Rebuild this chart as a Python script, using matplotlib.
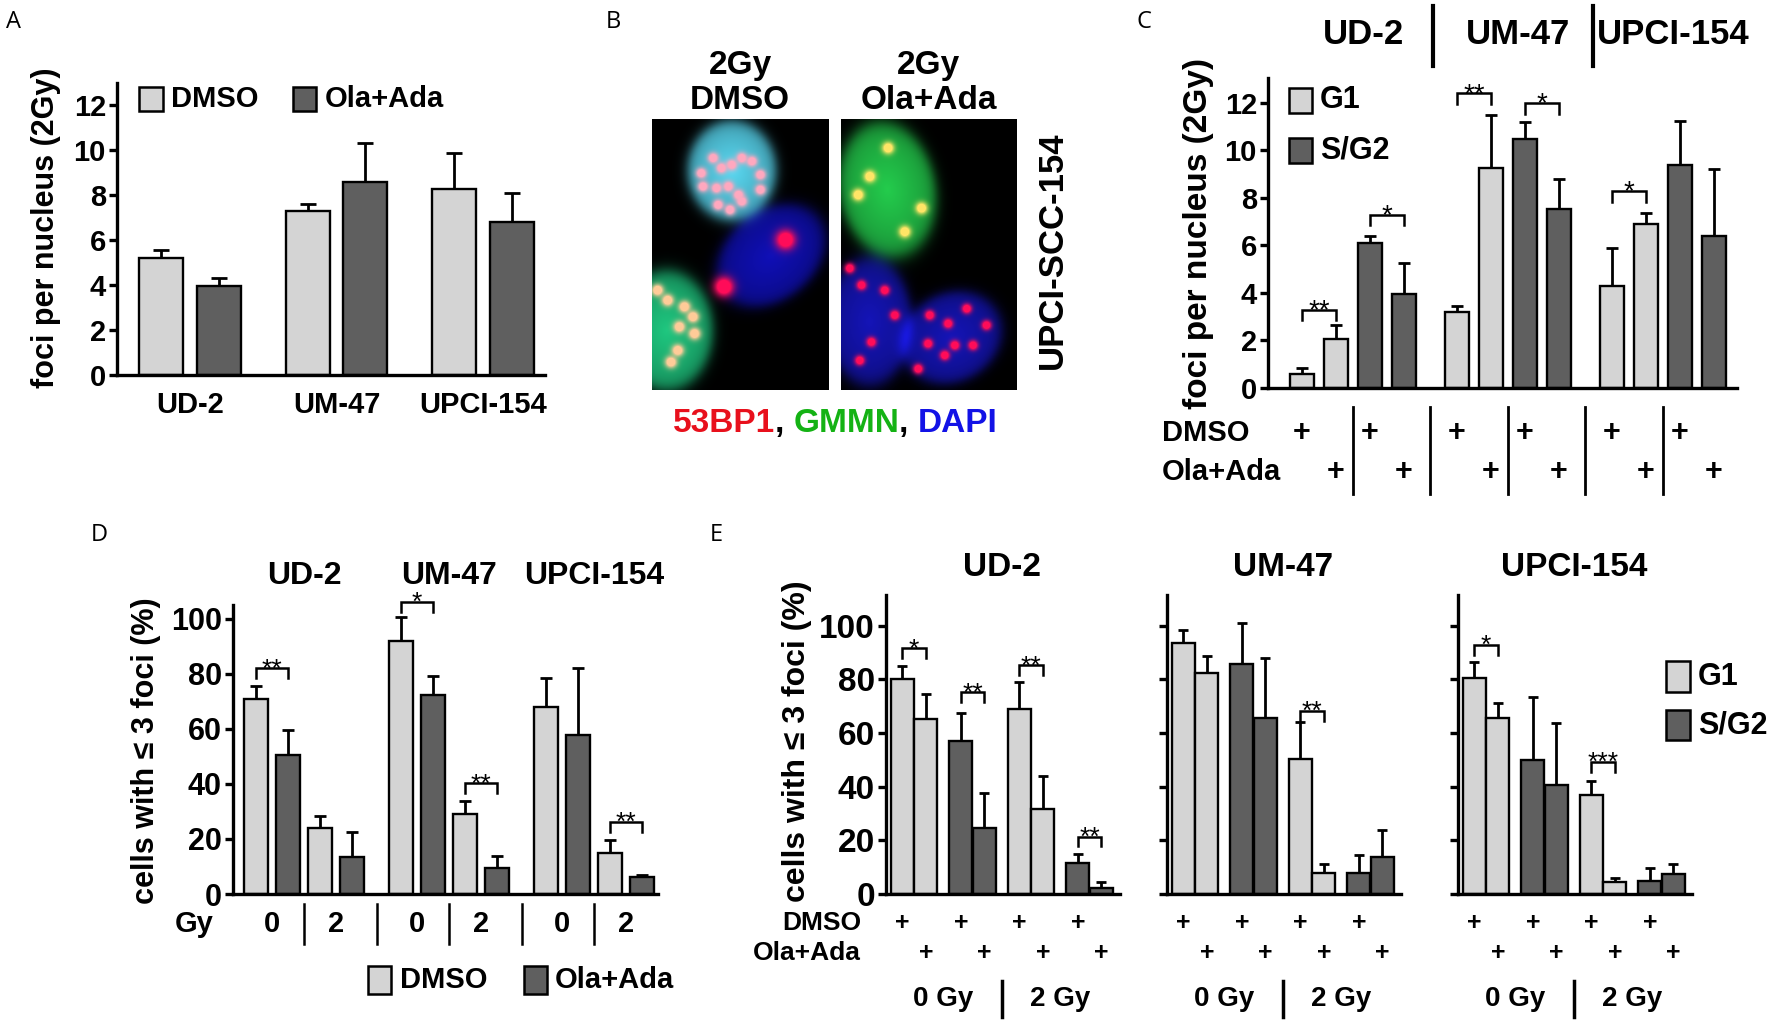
import numpy as np
import matplotlib
matplotlib.use("Agg")
import matplotlib.pyplot as plt
import matplotlib.transforms as mtransforms
from matplotlib.patches import Rectangle

W, H = 1772, 1021
LIGHT = '#d4d4d4'
DARK = '#5f5f5f'

plt.rcParams['font.family'] = ['Liberation Sans', 'DejaVu Sans']
plt.rcParams['font.weight'] = 'bold'

# ---------------- data ----------------
# A: foci per nucleus, 2Gy
a_groups = ['UD-2', 'UM-47', 'UPCI-154']
a_dmso = [5.2, 7.3, 8.3]
a_dmso_err = [0.35, 0.3, 1.6]
a_ola = [3.95, 8.6, 6.8]
a_ola_err = [0.35, 1.75, 1.3]

# C: per group G1 DMSO, G1 Ola+Ada, S/G2 DMSO, S/G2 Ola+Ada
c_groups = ['UD-2', 'UM-47', 'UPCI-154']
c_vals = [[0.6, 2.05, 6.1, 3.95], [3.2, 9.25, 10.5, 7.55], [4.3, 6.9, 9.4, 6.4]]
c_err = [[0.25, 0.6, 0.3, 1.3], [0.25, 2.25, 0.7, 1.25], [1.6, 0.45, 1.85, 2.8]]
c_sig = [(0, 0, 1, 3.3, '**'), (0, 2, 3, 7.3, '*'), (1, 0, 1, 12.4, '**'),
         (1, 2, 3, 12.0, '*'), (2, 0, 1, 8.3, '*')]

# D: per group DMSO 0Gy, Ola+Ada 0Gy, DMSO 2Gy, Ola+Ada 2Gy
d_groups = ['UD-2', 'UM-47', 'UPCI-154']
d_vals = [[70.7, 50.5, 24.1, 13.5], [92.1, 72.3, 29.2, 9.3], [68.0, 57.8, 14.8, 6.1]]
d_err = [[4.9, 9.0, 4.4, 8.9], [8.6, 6.9, 4.6, 4.5], [10.4, 24.2, 4.8, 0.8]]
d_sig = [(0, 0, 1, 82.0, '**'), (1, 0, 1, 106.2, '*'), (1, 2, 3, 40.2, '**'),
         (2, 2, 3, 26.3, '**')]
d_dose = ['0', '2']

# E: G1/S2G2 x DMSO/Ola+Ada x 0Gy/2Gy
e_groups = ['UD-2', 'UM-47', 'UPCI-154']
e_phase = ['G1', 'G1', 'S/G2', 'S/G2', 'G1', 'G1', 'S/G2', 'S/G2']
e_vals = [[80.1, 65.2, 57.0, 24.7, 68.8, 31.7, 11.4, 2.4],
          [93.4, 82.5, 85.6, 65.7, 50.2, 7.7, 7.7, 13.9],
          [80.4, 65.5, 49.9, 40.6, 36.9, 4.6, 5.0, 7.5]]
e_err = [[5.0, 9.2, 10.3, 13.1, 10.0, 12.4, 3.4, 1.9],
         [5.0, 6.2, 15.5, 22.4, 14.0, 3.4, 6.8, 10.0],
         [6.2, 5.8, 23.6, 23.0, 5.3, 1.2, 4.6, 3.6]]
e_sig = [[(0, 1, 91.6, '*'), (2, 3, 75.2, '**'), (4, 5, 85.3, '**'), (6, 7, 21.4, '**')],
         [(4, 5, 68.3, '**')],
         [(0, 1, 92.8, '*'), (4, 5, 49.3, '***')]]
e_doses = ['0 Gy', '2 Gy']

fig = plt.figure(figsize=(W / 100, H / 100), dpi=100)
fig.patch.set_facecolor('white')


def px_axes(x0, y0, x1, y1):
    return fig.add_axes([x0 / W, 1 - y1 / H, (x1 - x0) / W, (y1 - y0) / H])


def ftext(x, y, s, size, ha='left', va='center', **kw):
    return fig.text(x / W, 1 - y / H, s, fontsize=size, ha=ha, va=va, **kw)


def fig_box(x0, y0, x1, y1, color):
    fig.add_artist(Rectangle((x0 / W, 1 - y1 / H), (x1 - x0) / W, (y1 - y0) / H,
                             transform=fig.transFigure, facecolor=color,
                             edgecolor='black', linewidth=1.8))


def style(ax, ylim, yticks, tsize, labels=True):
    ax.set_ylim(*ylim)
    ax.set_yticks(yticks)
    if not labels:
        ax.set_yticklabels([])
    ax.set_xticks([])
    for s in ['top', 'right']:
        ax.spines[s].set_visible(False)
    for s in ['left', 'bottom']:
        ax.spines[s].set_linewidth(2.4)
    ax.tick_params(axis='y', length=6, width=2.4, labelsize=tsize, pad=2)
    ax.patch.set_visible(False)


def draw_bars(ax, x, vals, errs, colors, width, capsize):
    ax.errorbar(x, vals, yerr=[np.zeros(len(vals)), errs], fmt='none', ecolor='black',
                elinewidth=2.0, capsize=capsize, capthick=2.0, zorder=1, clip_on=False)
    ax.bar(x, vals, width, color=colors, edgecolor='black', linewidth=1.7, zorder=2)


def bracket(ax, x1, x2, y, leg, label, size=20):
    ax.plot([x1, x1, x2, x2], [y - leg, y, y, y - leg], color='black', lw=1.8,
            clip_on=False, solid_joinstyle='miter')
    ax.annotate(label, ((x1 + x2) / 2, y), xytext=(0, -6), textcoords='offset points',
                ha='center', va='baseline', fontsize=size, fontweight='normal',
                annotation_clip=False)


def xrow(ax, x, y, s, size, **kw):
    tr = mtransforms.blended_transform_factory(ax.transData, fig.transFigure)
    ax.text(x, 1 - y / H, s, transform=tr, fontsize=size, ha=kw.pop('ha', 'center'),
            va='center', clip_on=False, **kw)


def xline(ax, x, y0, y1, lw=1.8):
    tr = mtransforms.blended_transform_factory(ax.transData, fig.transFigure)
    ax.plot([x, x], [1 - y0 / H, 1 - y1 / H], transform=tr, color='black', lw=lw,
            clip_on=False)


# panel letters
for let, (lx, ly) in zip('ABCDE', [(6, 22), (606, 22), (1136, 22), (91, 535), (710, 535)]):
    ftext(lx, ly, let, 17, fontweight='normal', family=['Open Sans', 'DejaVu Sans'])

# ---------------- A ----------------
axA = px_axes(117, 83, 545, 375)
gp = 2.53
xa = np.arange(3) * gp
draw_bars(axA, xa, a_dmso, a_dmso_err, LIGHT, 0.76, 5.5)
draw_bars(axA, xa + 1, a_ola, a_ola_err, DARK, 0.76, 5.5)
axA.set_xlim(-0.76, 6.63)
style(axA, (0, 13), np.arange(0, 13, 2), 21)
for g, name in enumerate(a_groups):
    xrow(axA, xa[g] + 0.5, 405, name, 21)
ftext(46, 228, 'foci per nucleus (2Gy)', 22, ha='center', rotation=90)
fig_box(139, 87, 163, 111, LIGHT)
ftext(171, 99, 'DMSO', 21)
fig_box(293, 87, 316, 111, DARK)
ftext(325, 99, 'Ola+Ada', 21)


# ---------------- B ----------------
def nucleus_img(cells, foci, w=176, h=271):
    yy, xx = np.mgrid[0:h, 0:w].astype(float)
    img = np.zeros((h, w, 3))
    for cx, cy, rx, ry, ang, col in cells:
        a = np.deg2rad(ang)
        u = ((xx - cx) * np.cos(a) + (yy - cy) * np.sin(a)) / rx
        v = (-(xx - cx) * np.sin(a) + (yy - cy) * np.cos(a)) / ry
        r = np.sqrt(u ** 2 + v ** 2)
        m = 1 / (1 + np.exp((r - 1) / 0.07))
        shade = 0.75 + 0.25 * np.clip(1 - r, 0, 1)
        img += (m * shade)[..., None] * np.array(col)
    for fx, fy, s, col in foci:
        gss = np.exp(-((xx - fx * w) ** 2 + (yy - fy * h) ** 2) / (2 * s ** 2))
        gss = np.clip(1.6 * gss, 0, 1)
        img = img * (1 - gss[..., None]) + gss[..., None] * np.array(col)
    return np.clip(img, 0, 1)


pink = (1.0, 0.66, 0.75)
orange = (1.0, 0.8, 0.6)
red = (1.0, 0.05, 0.35)
yellow = (1.0, 0.9, 0.4)
cells1 = [(79, 51, 44, 50, 0, (0.35, 0.85, 0.95)),
          (118, 136, 60, 44, -40, (0.06, 0.06, 0.72)),
          (14, 211, 46, 60, 0, (0.12, 0.78, 0.5))]
foci1 = [(x, y, 3.6, pink) for x, y in
         [(0.276, 0.198), (0.343, 0.142), (0.39, 0.179), (0.448, 0.167), (0.505, 0.142),
          (0.562, 0.154), (0.286, 0.247), (0.362, 0.253), (0.429, 0.247), (0.486, 0.278),
          (0.371, 0.315), (0.438, 0.333), (0.505, 0.302), (0.61, 0.259), (0.61, 0.204)]]
foci1 += [(x, y, 4.0, orange) for x, y in
          [(0.029, 0.63), (0.086, 0.667), (0.181, 0.691), (0.229, 0.728), (0.152, 0.765),
           (0.238, 0.79), (0.143, 0.852), (0.105, 0.895)]]
foci1 += [(0.752, 0.444, 6.5, red), (0.404, 0.617, 6.5, red)]
cells2 = [(46, 70, 48, 68, -10, (0.14, 0.8, 0.3)),
          (28, 202, 42, 64, 0, (0.08, 0.08, 0.72)),
          (110, 218, 52, 44, -30, (0.08, 0.08, 0.72))]
foci2 = [(x, y, 4.0, yellow) for x, y in
         [(0.161, 0.21), (0.36, 0.414), (0.265, 0.105), (0.095, 0.278), (0.455, 0.327)]]
foci2 += [(x, y, 3.3, red) for x, y in
          [(0.047, 0.549), (0.114, 0.611), (0.246, 0.63), (0.303, 0.722), (0.17, 0.821),
           (0.104, 0.889), (0.502, 0.722), (0.606, 0.753), (0.644, 0.833), (0.748, 0.833),
           (0.492, 0.827), (0.436, 0.92), (0.712, 0.698), (0.824, 0.759), (0.587, 0.87)]]

for (x0, x1), cells, foci in [((652, 828), cells1, foci1), ((841, 1017), cells2, foci2)]:
    axi = px_axes(x0, 119, x1, 390)
    axi.imshow(nucleus_img(cells, foci), aspect='auto', interpolation='bilinear')
    axi.set_axis_off()
ftext(740, 74, '2Gy', 24, ha='center', va='baseline')
ftext(740, 109, 'DMSO', 24, ha='center', va='baseline')
ftext(929, 74, '2Gy', 24, ha='center', va='baseline')
ftext(929, 109, 'Ola+Ada', 24, ha='center', va='baseline')
ftext(1052, 250, 'UPCI-SCC-154', 25, ha='center', rotation=90)

renderer = fig.canvas.get_renderer()
pieces = [('53BP1', '#e8101c'), (', ', 'black'), ('GMMN', '#14b214'), (', ', 'black'),
          ('DAPI', '#1212e6')]
cx = 0.0
made = []
for s, col in pieces:
    t = fig.text(cx, 1 - 432 / H, s, fontsize=24, color=col, ha='left', va='baseline')
    made.append(t)
    cx += t.get_window_extent(renderer).width / W
shift = 835 / W - cx / 2
for t in made:
    t.set_x(t.get_position()[0] + shift)

# ---------------- C ----------------
axC = px_axes(1268, 78, 1737, 388)
gc = 4.56
c_colors = [LIGHT, LIGHT, DARK, DARK]
for g in range(3):
    xs = g * gc + np.arange(4)
    draw_bars(axC, xs, c_vals[g], c_err[g], c_colors, 0.72, 4.5)
axC.set_xlim(-1.0, 12.8)
style(axC, (0, 13.05), np.arange(0, 13, 2), 21)
for g, i1, i2, y, lab in c_sig:
    bracket(axC, g * gc + i1, g * gc + i2, y, 0.45, lab, 20)
ftext(1199, 233, 'foci per nucleus (2Gy)', 24, ha='center', rotation=90)
fig_box(1289, 88, 1312, 113, LIGHT)
ftext(1320, 100, 'G1', 22)
fig_box(1289, 138, 1312, 163, DARK)
ftext(1320, 150, 'S/G2', 22)
for g, name in enumerate(c_groups):
    xrow(axC, g * gc + 1.8, 35, name, 25)
xline(axC, 3.85, 6, 66, lw=3)
xline(axC, gc + 4.0, 6, 66, lw=3)
ftext(1162, 433, 'DMSO', 21)
ftext(1162, 472, 'Ola+Ada', 21)
for g in range(3):
    for i in range(4):
        xrow(axC, g * gc + i, 433 if i % 2 == 0 else 472, '+', 22)
    xline(axC, g * gc + 1.5, 407, 494, lw=2)
    if g < 2:
        xline(axC, g * gc + 3.78, 407, 494, lw=2)

# ---------------- D ----------------
axD = px_axes(233, 605, 658, 894)
gd = 4.53
d_colors = [LIGHT, DARK, LIGHT, DARK]
for g in range(3):
    xs = g * gd + np.arange(4)
    draw_bars(axD, xs, d_vals[g], d_err[g], d_colors, 0.74, 4.5)
axD.set_xlim(-0.72, 12.56)
style(axD, (0, 105), np.arange(0, 101, 20), 22)
for g, i1, i2, y, lab in d_sig:
    bracket(axD, g * gd + i1, g * gd + i2, y, 3.6, lab, 19)
for g, name in enumerate(d_groups):
    xrow(axD, g * gd + 1.5, 576, name, 23)
ftext(146, 751, 'cells with \u2264 3 foci (%)', 22, ha='center', rotation=90)
ftext(175, 924, 'Gy', 21)
for g in range(3):
    xrow(axD, g * gd + 0.5, 924, d_dose[0], 21)
    xrow(axD, g * gd + 2.5, 924, d_dose[1], 21)
    xline(axD, g * gd + 1.5, 904, 944)
    if g < 2:
        xline(axD, g * gd + 3.765, 904, 944)
fig_box(368, 966, 391, 994, LIGHT)
ftext(400, 980, 'DMSO', 21)
fig_box(524, 966, 547, 994, DARK)
ftext(555, 980, 'Ola+Ada', 21)

# ---------------- E ----------------
ge = 2.49
xe = np.array([p * ge + i for p in range(4) for i in range(2)])
e_colors = [LIGHT if ph == 'G1' else DARK for ph in e_phase]
for k, (x0, x1) in enumerate([(886, 1120), (1167, 1401), (1458, 1692)]):
    ax = px_axes(x0, 595, x1, 894)
    draw_bars(ax, xe, e_vals[k], e_err[k], e_colors, 0.98, 3.8)
    ax.set_xlim(-0.70, 9.26)
    style(ax, (0, 111.4), np.arange(0, 101, 20), 24, labels=(k == 0))
    for i1, i2, y, lab in e_sig[k]:
        bracket(ax, xe[i1], xe[i2], y, 3.7, lab, 19)
    xrow(ax, (xe[0] + xe[-1]) / 2, 567, e_groups[k], 24)
    for i in range(8):
        xrow(ax, xe[i], 923 if i % 2 == 0 else 953, '+', 18)
    xrow(ax, xe[:4].mean(), 999, e_doses[0], 20)
    xrow(ax, xe[4:].mean(), 999, e_doses[1], 20)
    xline(ax, (xe[3] + xe[4]) / 2, 981, 1017, lw=2.5)
ftext(861, 923, 'DMSO', 19, ha='right')
ftext(861, 953, 'Ola+Ada', 19, ha='right')
ftext(797, 741, 'cells with \u2264 3 foci (%)', 23, ha='center', rotation=90)
fig_box(1666, 661, 1690, 692, LIGHT)
ftext(1698, 677, 'G1', 22)
fig_box(1666, 710, 1690, 740, DARK)
ftext(1698, 726, 'S/G2', 22)

fig.savefig('out.png', dpi=100)
